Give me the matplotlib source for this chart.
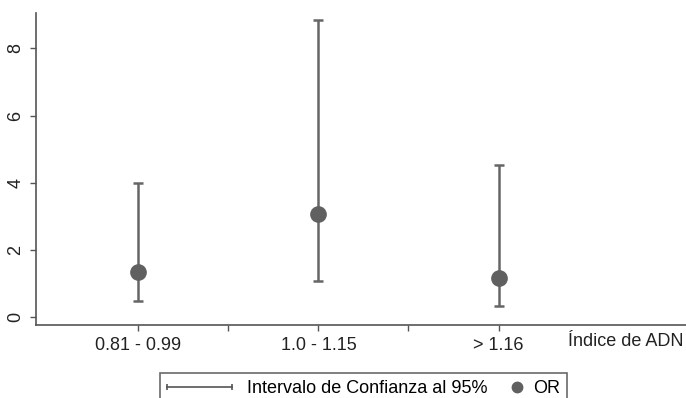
import numpy as np
import matplotlib.pyplot as plt
from matplotlib.lines import Line2D
from matplotlib.legend_handler import HandlerLine2D
from matplotlib.offsetbox import DrawingArea

plt.rcParams['font.family'] = ['Liberation Sans', 'DejaVu Sans']

# data
groups = ['0.81 - 0.99', '1.0 - 1.15', '> 1.16']
odds_ratio = [1.33, 3.08, 1.15]
ci_low = [0.48, 1.07, 0.33]
ci_high = [3.98, 8.85, 4.53]

xpos = np.arange(1, len(groups) + 1)
orr = np.array(odds_ratio)
err = [orr - np.array(ci_low), np.array(ci_high) - orr]

WIDE = 4.9  # the CI legend key box is much longer than the OR one
DRAW = 4.5  # ...and the line inside it stops a bit short of the label


class WideHandler(HandlerLine2D):
    def create_artists(self, legend, orig_handle, xdescent, ydescent,
                       width, height, fontsize, trans):
        return super().create_artists(legend, orig_handle, xdescent, ydescent,
                                      width * DRAW, height, fontsize, trans)


fig = plt.figure(figsize=(6.86, 3.98), dpi=100)
ax = fig.add_axes([0.053, 0.183, 0.947, 0.784])

barcol = '#666666'
ax.errorbar(xpos, orr, yerr=err, fmt='none', ecolor=barcol, elinewidth=1.8,
            capsize=3.5, capthick=1.8)
ax.plot(xpos, orr, 'o', color='#606060', markersize=11, zorder=3)

ax.set_xlim(0.435, 4.04)
ax.set_ylim(-0.24, 9.05)
ax.set_xticks([1, 1.5, 2, 2.5, 3])
ax.set_xticklabels([groups[0], '', groups[1], '', groups[2]])
ax.set_yticks([0, 2, 4, 6, 8])
for lab in ax.get_yticklabels():
    lab.set_rotation(90)
    lab.set_va('center')

ax.spines['top'].set_visible(False)
ax.spines['right'].set_visible(False)
for s in ['left', 'bottom']:
    ax.spines[s].set_color('#555555')
    ax.spines[s].set_linewidth(1.2)
ax.tick_params(colors='#555555', labelcolor='#222222', labelsize=13, length=4.5, width=1)
ax.tick_params(axis='x', pad=4)
ax.tick_params(axis='y', pad=4)

fig.text(0.997, 1 - 342 / 398, 'Índice de ADN', ha='right', va='center',
         fontsize=13, color='#222222')

ci_handle = Line2D([], [], color='#555555', lw=1.2, marker='|', markersize=5,
                   markeredgewidth=1.2)
or_handle = Line2D([], [], color='#606060', lw=0, marker='o', markersize=7.5)
leg = fig.legend([ci_handle, or_handle], ['Intervalo de Confianza al 95%', 'OR'],
                 loc='upper center', bbox_to_anchor=(0.53, 1 - 373 / 398), ncol=2,
                 frameon=True, fancybox=False, edgecolor='#444444', fontsize=13,
                 handlelength=0.8, columnspacing=1.2, handletextpad=0.5,
                 borderaxespad=0,
                 handler_map={ci_handle: WideHandler(numpoints=2, marker_pad=0),
                              or_handle: HandlerLine2D(numpoints=1)})
leg.get_frame().set_linewidth(1.2)
# widen the first key box so the label sits after the long CI key
das = leg.findobj(DrawingArea)
das[0].width = das[0].width * WIDE

fig.savefig('out.png', dpi=100)
